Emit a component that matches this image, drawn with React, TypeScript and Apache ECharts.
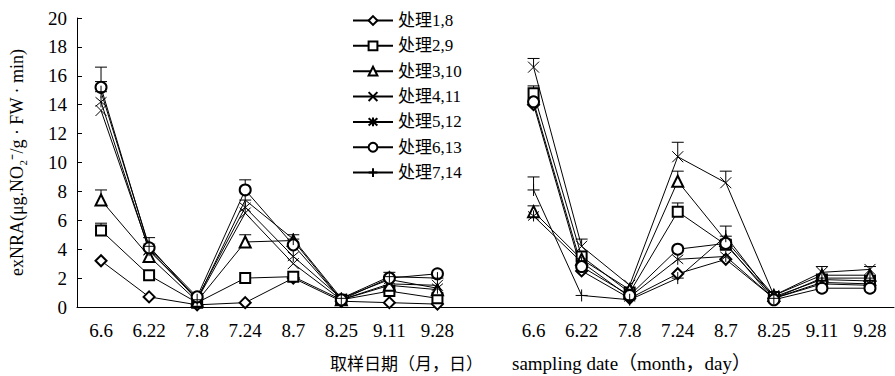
import React, { useEffect, useRef } from "react";
import * as echarts from "echarts";

const dates = ["6.6", "6.22", "7.8", "7.24", "8.7", "8.25", "9.11", "9.28"];
const categories = [...dates, "", ...dates];

const legendNames = ["处理1,8", "处理2,9", "处理3,10", "处理4,11", "处理5,12", "处理6,13", "处理7,14"];

// left group: treatments 1-7 ; right group: treatments 8-14
const t1 = [3.2, 0.7, 0.15, 0.3, 2.0, 0.4, 0.3, 0.2];
const t2 = [5.3, 2.2, 0.3, 2.0, 2.1, 0.5, 1.1, 0.6];
const t3 = [7.4, 3.5, 0.4, 4.5, 4.6, 0.5, 1.5, 1.2];
const t4 = [13.6, 4.0, 0.5, 6.5, 3.0, 0.5, 1.6, 1.5];
const t5 = [14.2, 3.9, 0.6, 6.9, 3.5, 0.6, 1.9, 1.3];
const t6 = [15.2, 4.1, 0.7, 8.1, 4.3, 0.5, 2.0, 2.3];
const t7 = [14.9, 4.2, 0.5, 7.4, 4.7, 0.6, 2.1, 2.0];

const t8 = [14.0, 2.5, 0.6, 2.3, 3.3, 0.6, 1.6, 1.5];
const t9 = [14.8, 3.5, 1.0, 6.6, 4.3, 0.7, 1.9, 1.8];
const t10 = [6.6, 3.3, 1.2, 8.7, 4.6, 0.8, 2.2, 2.2];
const t11 = [16.6, 4.2, 1.5, 10.4, 8.6, 0.8, 2.4, 2.6];
const t12 = [6.3, 3.1, 0.7, 3.3, 3.5, 0.6, 1.7, 1.6];
const t13 = [14.2, 2.8, 0.8, 4.0, 4.4, 0.5, 1.3, 1.3];
const t14 = [8.1, 0.8, 0.5, 2.0, 4.9, 0.6, 2.0, 2.0];

// upper error bars (null = not drawn)
const n = null;
const e1 = [n, n, n, n, n, n, n, n];
const e2 = [0.5, n, n, n, n, n, n, n];
const e3 = [0.7, n, n, 0.5, 0.4, n, n, n];
const e4 = [n, n, n, n, n, n, n, n];
const e5 = [n, n, n, n, n, n, n, n];
const e6 = [0.4, n, n, 0.7, n, n, n, n];
const e7 = [1.7, 0.6, n, n, n, n, 0.3, n];
const e8 = [n, n, n, n, n, n, n, n];
const e9 = [0.5, n, n, 0.6, n, n, n, n];
const e10 = [0.4, n, n, 0.7, n, n, n, n];
const e11 = [0.6, 0.5, n, 1.0, 0.8, n, 0.4, 0.2];
const e12 = [n, n, n, n, n, n, n, n];
const e13 = [n, n, n, n, n, n, n, n];
const e14 = [0.9, n, n, n, 0.7, n, n, n];

const leftVals = [t1, t2, t3, t4, t5, t6, t7];
const rightVals = [t8, t9, t10, t11, t12, t13, t14];
const leftErr = [e1, e2, e3, e4, e5, e6, e7];
const rightErr = [e8, e9, e10, e11, e12, e13, e14];

const symbols = [
  { symbol: "emptyDiamond", size: 11 },
  { symbol: "emptyRect", size: 10 },
  { symbol: "emptyTriangle", size: 11 },
  { symbol: "path://M0,0L10,10M10,0L0,10", size: 11 },
  { symbol: "path://M0,0L10,10M10,0L0,10M5,-1L5,11", size: 11 },
  { symbol: "emptyCircle", size: 11 },
  { symbol: "path://M5,0L5,10M0,5L10,5", size: 12 },
];

export default function App() {
  const ref = useRef<HTMLDivElement>(null);
  useEffect(() => {
    if (!ref.current) return;
    const chart = echarts.init(ref.current, null, { renderer: "svg" });
    const font = "'Liberation Serif', 'Times New Roman', 'Noto Sans CJK SC', serif";

    const lineSeries: any[] = legendNames.map((name, i) => ({
      name,
      type: "line",
      data: [...leftVals[i], null, ...rightVals[i]],
      symbol: symbols[i].symbol,
      symbolSize: symbols[i].size,
      showSymbol: true,
      lineStyle: { color: "#000", width: 1 },
      itemStyle: { color: "#000", borderColor: "#000", borderWidth: 1 },
      emphasis: { disabled: true },
      z: 3,
    }));

    const errData: any[] = [];
    legendNames.forEach((_, i) => {
      const vals = [...leftVals[i], null, ...rightVals[i]];
      const errs = [...leftErr[i], null, ...rightErr[i]];
      vals.forEach((v, k) => {
        const e = errs[k];
        if (v != null && e != null) errData.push([k, v, e]);
      });
    });

    const errSeries = {
      type: "custom",
      name: "err",
      data: errData,
      encode: { x: 0, y: 1 },
      z: 2,
      renderItem: (_p: any, api: any) => {
        const x = api.value(0);
        const v = api.value(1);
        const e = api.value(2);
        const p0 = api.coord([x, v]);
        const p1 = api.coord([x, v + e]);
        return {
          type: "group",
          children: [
            { type: "line", shape: { x1: p0[0], y1: p0[1], x2: p1[0], y2: p1[1] }, style: { stroke: "#000", lineWidth: 1 } },
            { type: "line", shape: { x1: p1[0] - 6, y1: p1[1], x2: p1[0] + 6, y2: p1[1] }, style: { stroke: "#000", lineWidth: 1 } },
          ],
        };
      },
    };

    chart.setOption({
      animation: false,
      backgroundColor: "#fff",
      textStyle: { fontFamily: font, color: "#000" },
      grid: { left: 74, right: 1, top: 18, bottom: 69, containLabel: false },
      legend: {
        data: legendNames,
        orient: "vertical",
        left: 352,
        top: 12,
        padding: 0,
        itemWidth: 40,
        itemHeight: 11,
        itemGap: 8.35,
        textStyle: { fontFamily: font, fontSize: 17, color: "#000" },
        selectedMode: false,
      },
      xAxis: {
        type: "category",
        data: categories,
        boundaryGap: true,
        axisLine: { lineStyle: { color: "#000", width: 1 } },
        axisTick: { inside: true, length: 5, interval: 0, lineStyle: { color: "#000" } },
        axisLabel: { interval: 0, fontSize: 19, color: "#000", margin: 14, fontFamily: font },
        splitLine: { show: false },
      },
      yAxis: {
        type: "value",
        min: 0,
        max: 20,
        interval: 2,
        name: "exNRA(μg.NO₂⁻/g · FW · min)",
        nameLocation: "middle",
        nameGap: 51,
        nameRotate: 90,
        nameTextStyle: { fontSize: 18, color: "#000", fontFamily: font },
        axisLine: { show: true, lineStyle: { color: "#000", width: 1 } },
        axisTick: { show: true, inside: true, length: 5, lineStyle: { color: "#000" } },
        axisLabel: { fontSize: 19, color: "#000", margin: 10, fontFamily: font },
        splitLine: { show: false },
      },
      graphic: [
        {
          type: "text",
          left: 330,
          top: 356,
          style: {
            text: "取样日期（月，日）",
            font: `17px ${font}`,
            fill: "#000",
          },
        },
        {
          type: "text",
          left: 512,
          top: 354,
          style: {
            text: "sampling date（month，day）",
            font: `19px ${font}`,
            fill: "#000",
          },
        },
      ],
      series: [...lineSeries, errSeries],
    });
    return () => chart.dispose();
  }, []);
  return <div ref={ref} style={{ position: "fixed", left: 0, top: 0, width: 895, height: 376 }} />;
}
